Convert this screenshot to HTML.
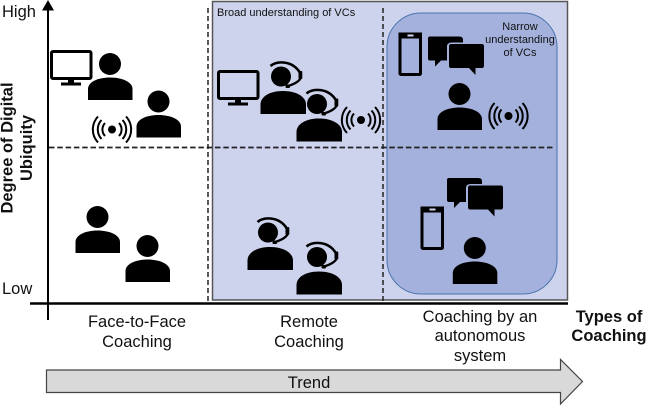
<!DOCTYPE html>
<html>
<head>
<meta charset="utf-8">
<style>
html,body{margin:0;padding:0;background:#fff;}
svg{display:block;}
text{font-family:"Liberation Sans",sans-serif;fill:#111;}
</style>
</head>
<body>
<svg width="646" height="405" viewBox="0 0 646 405" xmlns="http://www.w3.org/2000/svg">
<defs>
  <g id="person">
    <circle cx="22" cy="11" r="11"/>
    <path d="M0 47 V36 C0 29 10 24.500 22 24.500 C34 24.500 44.500 29 44.500 36 V47 Z"/>
  </g>
  <g id="headset">
    <circle cx="21" cy="13" r="10"/>
    <path d="M10.500 2.500 C17 -3 32 -3 39.500 8.500" fill="none" stroke="#000" stroke-width="2.600"/>
    <rect x="38.500" y="7.500" width="3.800" height="8" rx="1"/>
    <path d="M40.500 15 C38 19 33 21 27 22.800" fill="none" stroke="#000" stroke-width="2.200"/>
    <rect x="25.500" y="21" width="4.500" height="3.500" rx="1"/>
    <path d="M0.500 50.500 V41 C0.500 33 10 27.500 23 27.500 C36 27.500 46 33 46 41 V50.500 Z"/>
  </g>
  <g id="monitor">
    <rect x="1.500" y="1.500" width="39.500" height="27" rx="1.500" fill="none" stroke="#000" stroke-width="3"/>
    <rect x="18" y="29" width="6" height="4"/>
    <rect x="11" y="32.500" width="20" height="3"/>
  </g>
  <g id="signal" fill="none" stroke="#000" stroke-width="2">
    <circle cx="0" cy="0" r="4" fill="#000" stroke="none"/>
    <path d="M-7 -6.500 A9.500 9.500 0 0 0 -7 6.500 M7 -6.500 A9.500 9.500 0 0 1 7 6.500"/>
    <path d="M-10.500 -9.500 A14 14 0 0 0 -10.500 9.500 M10.500 -9.500 A14 14 0 0 1 10.500 9.500"/>
    <path d="M-14 -13 A19 19 0 0 0 -14 13 M14 -13 A19 19 0 0 1 14 13"/>
  </g>
  <g id="phone">
    <rect x="1.500" y="1.500" width="20.500" height="40.500" rx="1" fill="none" stroke="#000" stroke-width="3"/>
    <rect x="0" y="0" width="23.500" height="6"/>
    <rect x="9" y="2" width="6" height="2" fill="#cfd6ee"/>
  </g>
  <g id="bubbles">
    <path d="M2 0 H31 Q35 0 35 3 V6 H24 Q19 6 19 10 V24 H13 L7 30 V24 H2 Q0 24 0 22 V2 Q0 0 2 0 Z"/>
    <path d="M23 7.500 H54 Q56 7.500 56 10 V29 Q56 31.500 54 31.500 H47.500 V38.500 L41 31.500 H23 Q21 31.500 21 29 V10 Q21 7.500 23 7.500 Z"/>
  </g>
</defs>

<rect width="646" height="405" fill="#fff"/>

<!-- panels -->
<rect x="212.500" y="1.500" width="355" height="298.500" fill="#cdd3ec" stroke="#555" stroke-width="1.500"/>
<rect x="387" y="13" width="170" height="281" rx="34" ry="34" fill="#a3b1dc" stroke="#4a72b0" stroke-width="1"/>

<!-- dashed -->
<g fill="none" stroke="#222">
  <line x1="208" y1="8" x2="208" y2="302" stroke-width="1.500" stroke-dasharray="5 3"/>
  <line x1="383" y1="8" x2="383" y2="302" stroke-width="1.500" stroke-dasharray="5 3"/>
  <line x1="49" y1="147.500" x2="553" y2="147.500" stroke-width="1.800" stroke-dasharray="5.500 2.800"/>
</g>

<!-- axes -->
<line x1="48" y1="6" x2="48" y2="320" stroke="#000" stroke-width="2"/>
<path d="M42 10.500 L48 0 L54 10.500 Z" fill="#000"/>
<line x1="30" y1="303.500" x2="568" y2="303.500" stroke="#000" stroke-width="2.400"/>

<!-- face to face -->
<use href="#monitor" x="50" y="50"/>
<use href="#person" x="88" y="53"/>
<use href="#person" x="136.500" y="90.500"/>
<use href="#signal" x="112" y="129.500"/>
<use href="#person" x="75.500" y="206"/>
<use href="#person" x="125.500" y="235"/>

<!-- remote -->
<use href="#monitor" x="217" y="70"/>
<use href="#headset" x="260" y="63.500"/>
<use href="#headset" x="296" y="91"/>
<use href="#signal" x="361" y="120"/>
<use href="#headset" x="247" y="219.500"/>
<use href="#headset" x="296" y="244"/>

<!-- autonomous -->
<use href="#phone" x="398.500" y="32.500"/>
<use href="#bubbles" x="428" y="36.500"/>
<use href="#person" x="437.500" y="83"/>
<use href="#signal" x="508.500" y="116"/>
<use href="#phone" x="420.500" y="206.500"/>
<use href="#bubbles" x="447" y="178"/>
<use href="#person" x="452.800" y="237"/>

<!-- trend arrow -->
<path d="M46.500 370 H560.500 V359.500 L582.500 381.500 L560.500 404 V392.500 H46.500 Z" fill="#d9d9d9" stroke="#444" stroke-width="1.200"/>

<!-- labels -->
<text x="2" y="17" font-size="16.500">High</text>
<text x="2" y="294" font-size="16.500">Low</text>
<text transform="translate(12.500 148) rotate(-90)" font-size="16.500" font-weight="bold" text-anchor="middle">Degree of Digital</text>
<text transform="translate(32 148) rotate(-90)" font-size="16.500" font-weight="bold" text-anchor="middle">Ubiquity</text>

<text x="217" y="16" font-size="11">Broad understanding of VCs</text>
<g font-size="11" text-anchor="middle">
  <text x="520" y="30">Narrow</text>
  <text x="520" y="43">understanding</text>
  <text x="520" y="56">of VCs</text>
</g>

<g font-size="16.500" text-anchor="middle">
  <text x="137" y="327">Face-to-Face</text>
  <text x="137" y="347">Coaching</text>
  <text x="309" y="327">Remote</text>
  <text x="309" y="347">Coaching</text>
  <text x="480" y="322">Coaching by an</text>
  <text x="480" y="341">autonomous</text>
  <text x="480" y="361">system</text>
  <text x="309" y="388">Trend</text>
</g>
<g font-size="16.500" font-weight="bold" text-anchor="middle">
  <text x="609" y="322">Types of</text>
  <text x="609" y="341">Coaching</text>
</g>
</svg>
</body>
</html>
